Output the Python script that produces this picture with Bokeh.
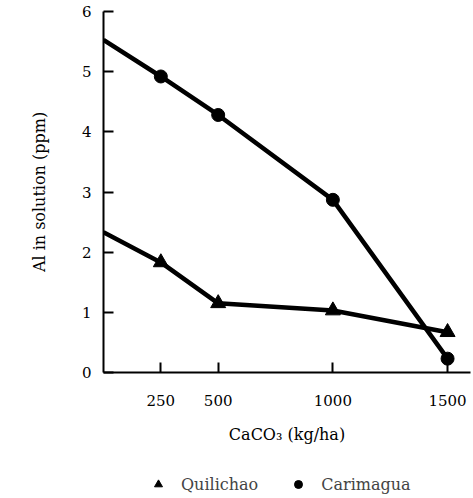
from bokeh.plotting import figure
from bokeh.models import Range1d, FixedTicker, Legend, LegendItem
from bokeh.layouts import column
from bokeh.embed import file_html
from bokeh.resources import INLINE

# CaCO3 rate (kg/ha)
rates = [0, 250, 500, 1000, 1500]
quilichao = [2.33, 1.83, 1.15, 1.03, 0.67]
carimagua = [5.53, 4.92, 4.28, 2.87, 0.23]
x_ticks = [250, 500, 1000, 1500]
y_ticks = [0, 1, 2, 3, 4, 5, 6]
series_names = ["Quilichao", "Carimagua"]

FONT = "DejaVu Serif"

p = figure(width=473, height=460, output_backend="svg", toolbar_location=None,
           x_range=Range1d(0, 1600), y_range=Range1d(0, 6.0),
           min_border_left=103, min_border_right=3, min_border_top=11, min_border_bottom=88)
p.outline_line_color = None
p.grid.grid_line_color = None

p.line(rates, carimagua, line_width=4.5, line_color="black")
p.line(rates, quilichao, line_width=4.5, line_color="black")
p.scatter(rates[1:], carimagua[1:], marker="circle", size=13, color="black")
p.scatter(rates[1:], quilichao[1:], marker="triangle", size=15, color="black")

for ax in (p.xaxis[0], p.yaxis[0]):
    ax.axis_line_width = 2
    ax.axis_line_color = "black"
    ax.major_tick_in = 10
    ax.major_tick_out = 0
    ax.major_tick_line_width = 2
    ax.minor_tick_line_color = None
    ax.major_label_text_font = FONT
    ax.major_label_text_font_size = "15px"
    ax.major_label_text_color = "black"
    ax.axis_label_text_font = FONT
    ax.axis_label_text_font_size = "16px"
    ax.axis_label_text_font_style = "normal"
    ax.axis_label_text_color = "black"

p.xaxis.ticker = FixedTicker(ticks=x_ticks)
p.yaxis.ticker = FixedTicker(ticks=y_ticks)
p.xaxis.major_label_standoff = 22
p.yaxis.major_label_standoff = 12
p.xaxis.axis_label = "CaCO\u2083 (kg/ha)"
p.yaxis.axis_label = "Al in solution (ppm)"
p.xaxis.axis_label_standoff = 16
p.yaxis.axis_label_standoff = 30

# legend strip below the chart (its marker renderers sit outside the visible range)
lg = figure(width=473, height=38, output_backend="svg", toolbar_location=None,
            x_range=Range1d(0, 1), y_range=Range1d(0, 1),
            min_border=0, outline_line_color=None)
lg.axis.visible = False
lg.grid.grid_line_color = None
lt = lg.scatter([5], [5], marker="triangle", size=15, color="black")
lc = lg.scatter([5], [5], marker="circle", size=13, color="black")
legend = Legend(items=[LegendItem(label=series_names[0], renderers=[lt]),
                       LegendItem(label=series_names[1], renderers=[lc])],
                orientation="horizontal", location=(45, 4),
                border_line_color=None, background_fill_alpha=0,
                label_text_font=FONT, label_text_font_size="16px",
                label_standoff=13, spacing=30, glyph_width=20, margin=0, padding=0)
lg.add_layout(legend)

open("out.html", "w").write(file_html(column(p, lg, spacing=0), INLINE))
